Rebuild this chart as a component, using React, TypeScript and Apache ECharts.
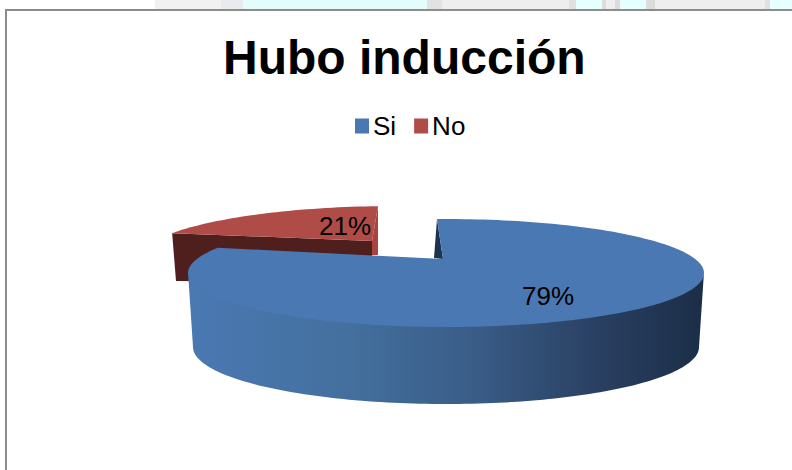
import React, { useEffect, useRef } from "react";
import * as echarts from "echarts";

const titleText = "Hubo inducción";
const categories = ["Si", "No"];
const sliceValues = [79, 21];
const sliceColors = ["#4a78b2", "#b04c48"];

const rad = (d: number) => (d * Math.PI) / 180;
function ring(cx: number, cy: number, rx: number, ry: number, a0: number, a1: number) {
  const pts: number[][] = [];
  const n = Math.max(8, Math.ceil(Math.abs(a1 - a0) / 1.5));
  for (let i = 0; i <= n; i++) {
    const a = rad(a0 + ((a1 - a0) * i) / n);
    pts.push([cx + rx * Math.sin(a), cy - ry * Math.cos(a)]);
  }
  return pts;
}
const total = sliceValues.reduce((a, b) => a + b, 0);
// foreshortened angle on the tilted disc, for a share of the turn
const bend = (share: number) => {
  const a = share * 360;
  return a - 2 - 32 * Math.sin(rad(2 * a));
};

const poly = (points: number[][], fill: any) => ({
  type: "polygon",
  shape: { points },
  style: { fill },
  silent: true,
});

function blueSlice(params: any, api: any) {
  const share = api.value(0) / total;
  const a0 = bend(0);
  const a1 = bend(share);
  const top = { cx: 446, cy: 273, rx: 258, ry: 54 };
  const bot = { cx: 446, cy: 347, rx: 253, ry: 57 };
  const apex = [443, 259];
  const grad = {
    type: "linear", x: 188, y: 0, x2: 704, y2: 0, global: true,
    colorStops: [
      { offset: 0, color: "#4a78b2" },
      { offset: 0.3, color: "#44709f" },
      { offset: 0.55, color: "#3a5d88" },
      { offset: 0.8, color: "#293f61" },
      { offset: 1, color: "#1b2e47" },
    ],
  };
  const wallFront = [
    ...ring(top.cx, top.cy - 1, top.rx, top.ry, 90, 270),
    ...ring(bot.cx, bot.cy, bot.rx, bot.ry, 270, 90),
  ];
  const start = ring(top.cx, top.cy, top.rx, top.ry, a0, a0)[0];
  const cut = poly([[start[0], start[1]], [apex[0] - 9, apex[1] - 1], apex], "#1c3350");
  const face = poly([apex, ...ring(top.cx, top.cy, top.rx, top.ry, a0, a1)], sliceColors[0]);
  return { type: "group", children: [cut, poly(wallFront, grad), face, {
    type: "text",
    style: {
      x: 548, y: 296, text: `${api.value(0)}%`, fill: "#000", font: '26px "Liberation Sans"',
      align: "center", verticalAlign: "middle",
    },
  }] };
}

function redSlice(params: any, api: any) {
  const share = api.value(0) / total;
  const a0 = bend(1 - share) + 2;
  const a1 = bend(1) - 2;
  const top = { cx: 396, cy: 260, rx: 258, ry: 54 };
  const arc = ring(top.cx, top.cy, top.rx, top.ry, a0, a1);
  const left = arc[0];
  const right = arc[arc.length - 1];
  const apex = [372, 241];
  const apexLow = [372, 255];
  const dark = poly([left, apex, apexLow, [368, 283], [176, 281]], "#4f1f1e");
  const wedge = poly([right, apex, apexLow, [378, 255]], "#a8443f");
  const face = poly([apex, ...arc], sliceColors[1]);
  return { type: "group", children: [dark, wedge, face, {
    type: "text",
    style: {
      x: 345, y: 226, text: `${api.value(0)}%`, fill: "#000", font: '26px "Liberation Sans"',
      align: "center", verticalAlign: "middle",
    },
  }] };
}

const strip = (x: number, width: number, fill: string) => ({
  type: "rect", z: -1, shape: { x, y: 0, width, height: 9 }, style: { fill },
});

export default function App() {
  const ref = useRef<HTMLDivElement>(null);
  useEffect(() => {
    const chart = echarts.init(ref.current!, undefined, { renderer: "svg" });
    chart.setOption({
      animation: false,
      backgroundColor: "#ffffff",
      title: {
        text: titleText, left: 218, top: 28,
        textStyle: { fontFamily: "Liberation Sans", fontWeight: "bold", fontSize: 48, color: "#000" },
      },
      legend: {
        data: categories, left: 350, top: 108, itemWidth: 14, itemHeight: 15, itemGap: 18,
        icon: "rect",
        textStyle: { fontFamily: "Liberation Sans", fontSize: 26, color: "#000", padding: [0, 0, 0, -1] },
      },
      graphic: [
        strip(155, 66, "#f1f1f1"),
        strip(221, 22, "#e8eaee"),
        strip(243, 184, "#e3fdfd"),
        strip(427, 15, "#e2e2e2"),
        strip(442, 127, "#eeeeee"),
        strip(569, 7, "#dde1e1"),
        strip(576, 26, "#e6ffff"),
        strip(602, 4, "#dcdcdc"),
        strip(606, 9, "#eeeeee"),
        strip(615, 5, "#dcdcdc"),
        strip(620, 26, "#e6ffff"),
        strip(646, 9, "#dcdcdc"),
        strip(655, 110, "#eeeeee"),
        strip(765, 5, "#dde1e1"),
        strip(770, 22, "#e6ffff"),
        { type: "line", z: 0, shape: { x1: 6, y1: 470, x2: 6, y2: 9 }, style: { stroke: "#8c8c8c", lineWidth: 2 } },
        { type: "line", z: 0, shape: { x1: 5, y1: 10, x2: 792, y2: 10 }, style: { stroke: "#8c8c8c", lineWidth: 2 } },
      ],
      series: [
        { type: "custom", name: categories[1], coordinateSystem: "none", z: 2, color: sliceColors[1], itemStyle: { color: sliceColors[1] }, data: [[sliceValues[1]]], renderItem: redSlice },
        { type: "custom", name: categories[0], coordinateSystem: "none", z: 3, color: sliceColors[0], itemStyle: { color: sliceColors[0] }, data: [[sliceValues[0]]], renderItem: blueSlice },
      ],
    });
    return () => chart.dispose();
  }, []);
  return <div ref={ref} style={{ position: "absolute", left: 0, top: 0, width: 792, height: 470 }} />;
}
